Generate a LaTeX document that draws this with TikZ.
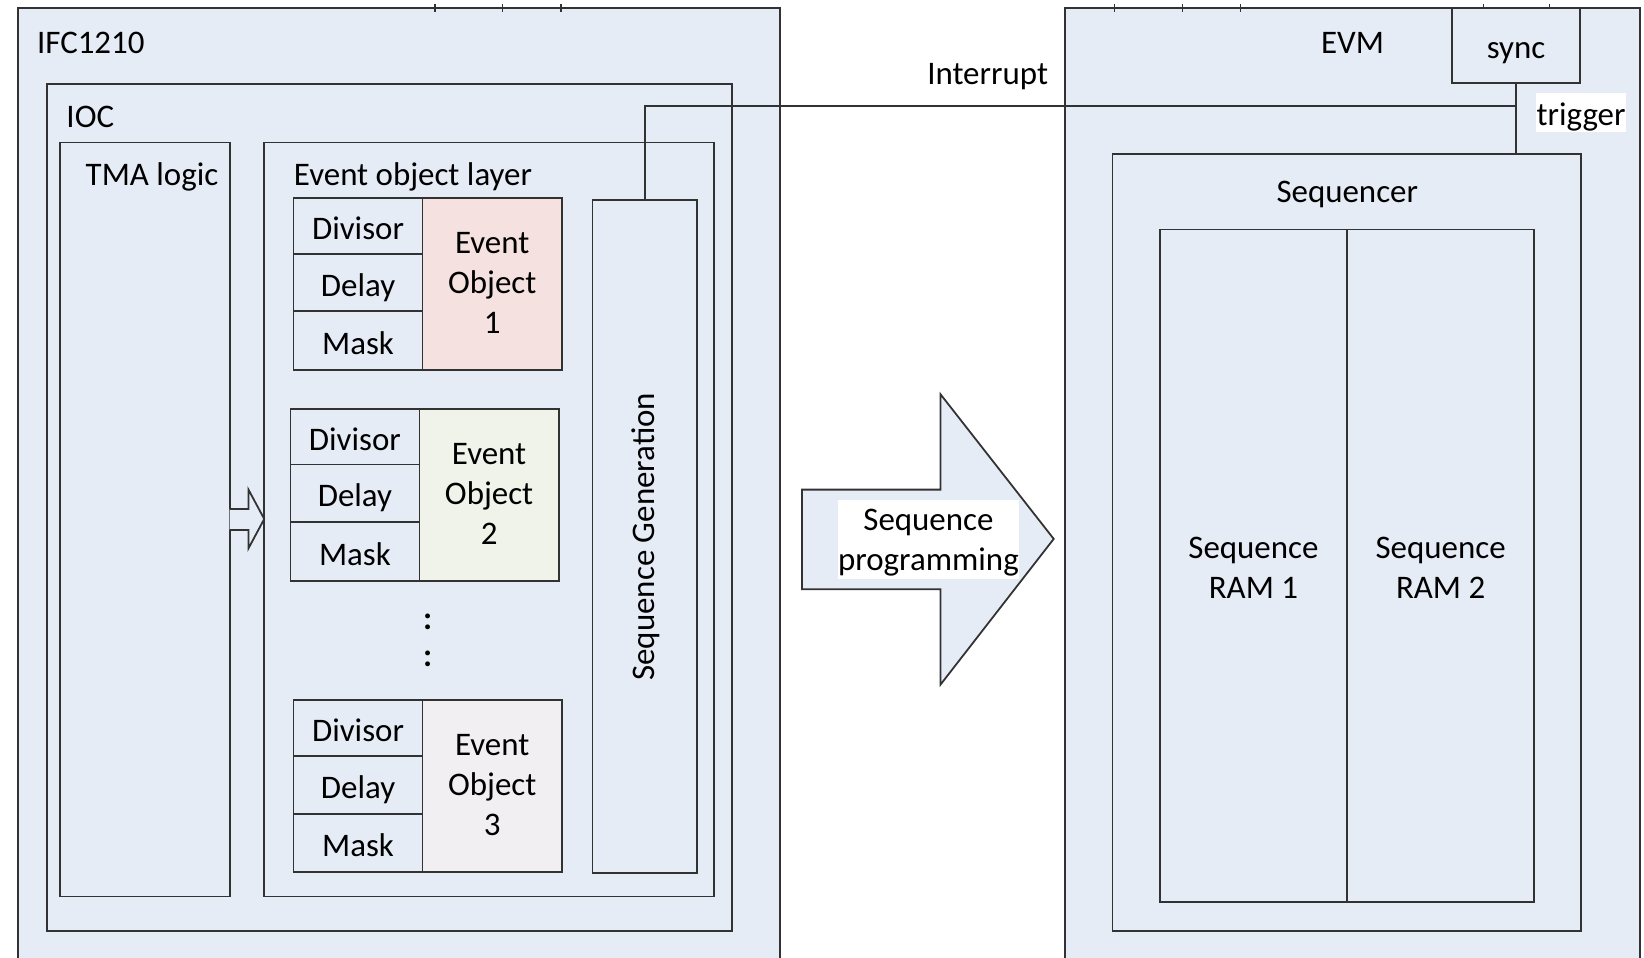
\documentclass[tikz,border=0pt]{standalone}
\usepackage{fontspec}
\setmainfont{Carlito}
\usetikzlibrary{fit}
\definecolor{panel}{RGB}{230,236,246}
\definecolor{edge}{RGB}{50,50,50}
\definecolor{eoA}{RGB}{245,225,223}
\definecolor{eoB}{RGB}{239,243,233}
\definecolor{eoC}{RGB}{242,239,243}
\tikzset{
  box/.style={draw=edge, line width=0.85pt, fill=panel, inner sep=0pt},
  txt/.style={inner sep=0pt, font=\fontsize{15.7}{19}\selectfont, text=black, align=center},
  lbl/.style={txt, text height=12pt, text depth=0pt},
  wire/.style={draw=edge, line width=0.85pt},
  tick/.style={draw=edge, line width=0.6pt},
}
% rectangle spanning two corners: [options]{name}{x1}{y1}{x2}{y2}
\newcommand\rectnode[6][]{\node[box,#1,fit={(#3,#4) (#5,#6)}] (#2) {};}
% event object: name, x0, y0, fill colour, number
\newcommand\evobj[5]{%
  \rectnode{#1d}{#2}{#3}{#2+123}{#3+53}
  \rectnode{#1l}{#2}{#3+53}{#2+123}{#3+108}
  \rectnode{#1m}{#2}{#3+108}{#2+123}{#3+164}
  \rectnode[fill=#4]{#1e}{#2+123}{#3}{#2+256}{#3+164}
  \node[lbl] (#1dt) at ([yshift=-0.5pt]#1d.center) {Divisor};
  \node[lbl] (#1lt) at ([yshift=-0.5pt]#1l.center) {Delay};
  \node[lbl] (#1mt) at ([yshift=-0.5pt]#1m.center) {Mask};
  \node[txt] (#1et) at ([yshift=0.5pt]#1e.center) {Event\\Object\\#5};
}
\begin{document}
\begin{tikzpicture}[x=0.5pt,y=-0.5pt]
\useasboundingbox (0,0) rectangle (1568,913);
\clip (0,0) rectangle (1568,913);

% ---------------- IFC1210 board ----------------
\rectnode{ifc}{17}{8}{744}{940}
\foreach \t in {415,479,535} \draw[tick] (\t,4) -- (\t,11);
\node[lbl, anchor=west] (ifct) at (35,39) {IFC1210};

\rectnode{ioc}{45}{80}{698}{888}
\node[lbl, anchor=west] (ioct) at (63,110) {IOC};

\rectnode{tma}{57}{136}{219}{855}
\node[lbl] (tmat) at (145,165) {TMA logic};

\rectnode{eol}{252}{136}{681}{855}
\node[lbl, anchor=west] (eolt) at (280,165) {Event object layer};

\rectnode{seqgen}{565}{191}{665}{833}
\node[txt, rotate=90] (seqgent) at ([xshift=0.5pt]seqgen.center) {Sequence Generation};

\evobj{eoa}{280}{189}{eoA}{1}
\evobj{eob}{277}{390}{eoB}{2}
\evobj{eoc}{280}{668}{eoC}{3}

\node[txt, font=\fontsize{15.7}{19}\bfseries] (dota) at (408,593) {:};
\node[txt, font=\fontsize{15.7}{19}\bfseries] (dotb) at (408,628) {:};

% hollow arrow from TMA logic into the event object layer
\fill[panel] (219,485.5) -- (237,485.5) -- (237,467) -- (252,495)
  -- (237,523) -- (237,505.5) -- (219,505.5) -- cycle;
\draw[wire] (219,485.5) -- (237,485.5) -- (237,467) -- (252,495)
  -- (237,523) -- (237,505.5) -- (219,505.5);

% ---------------- EVM ----------------
\rectnode{evm}{1016}{8}{1564}{940}
\foreach \t in {1063,1128,1183,1415,1478} \draw[tick] (\t,4) -- (\t,11);
\node[lbl] (evmt) at (1290,39) {EVM};

\rectnode{sync}{1385}{8}{1507}{79}
\node[lbl] (synct) at (sync) {sync};

\rectnode{seqr}{1061}{147}{1508}{888}
\node[lbl] (seqrt) at (1285,181) {Sequencer};
\rectnode{ram1}{1106}{219}{1285}{860}
\rectnode{ram2}{1285}{219}{1463}{860}
\node[txt] (ram1t) at ([yshift=-1pt]ram1.center) {Sequence\\RAM 1};
\node[txt] (ram2t) at ([yshift=-1pt]ram2.center) {Sequence\\RAM 2};

% ---------------- programming arrow ----------------
\draw[wire, fill=panel] (765,467) -- (897,467) -- (897,376) -- (1005,514)
  -- (897,653) -- (897,562) -- (765,562) -- cycle;
\node[fill=white, inner sep=0pt, minimum width=86.5pt, minimum height=37.5pt]
  (prog) at (885.5,514.5) {};
\node[txt] (progt) at ([yshift=-1.5pt]prog.center) {Sequence\\programming};

% ---------------- interrupt / trigger wiring ----------------
\coordinate (tj) at (sync.south |- 0,101);
\draw[wire] (seqgen.north) |- (tj);
\draw[wire] (sync.south) -- (sync.south |- seqr.north);
\node[lbl] (intt) at (942,69) {Interrupt};
\node[fill=white, inner sep=0pt, minimum width=43pt, minimum height=18.5pt]
  (trig) at (1508,107.5) {};
\node[lbl] (trigt) at (trig) {trigger};
\end{tikzpicture}
\end{document}
